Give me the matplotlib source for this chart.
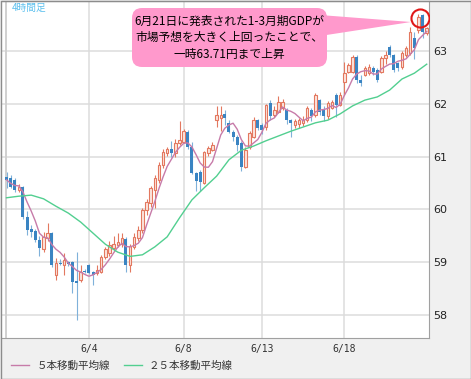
import matplotlib
matplotlib.use('Agg')
import matplotlib.pyplot as plt
from matplotlib.patches import FancyBboxPatch, Polygon
from matplotlib.transforms import IdentityTransform
import numpy as np
import pandas as pd

plt.rcParams['font.family'] = ['Noto Sans CJK JP', 'DejaVu Sans']

# 4時間足 (OHLC)
opens = [60.62, 60.59, 60.56, 60.37, 60.42, 59.86, 59.62, 59.60, 59.42, 59.25,
         59.46, 59.55, 58.75, 58.99, 58.95, 59.00, 59.01, 58.64, 58.66, 58.83,
         58.95, 58.82, 58.79, 58.82, 59.10, 59.17, 59.26, 59.33, 59.35, 59.44,
         58.95, 59.29, 59.46, 59.61, 59.98, 60.12, 60.37, 60.56, 60.84, 61.07,
         61.14, 61.07, 61.26, 61.28, 61.46, 61.18, 60.69, 60.70, 60.50, 61.07,
         61.13, 61.69, 61.73, 61.80, 61.64, 61.47, 61.38, 61.26, 60.81, 61.19,
         61.38, 61.69, 61.60, 61.56, 62.02, 61.79, 61.85, 61.92, 61.88, 61.69,
         61.60, 61.62, 61.64, 61.69, 61.88, 61.79, 62.07, 61.91, 61.76, 61.92,
         62.17, 61.98, 62.41, 62.61, 62.61, 62.89, 62.45, 62.55, 62.58, 62.68,
         62.64, 62.61, 62.87, 63.08, 62.92, 62.77, 62.70, 62.92, 62.96, 63.25,
         63.40, 63.68, 63.34]
highs = [60.71, 60.66, 60.60, 60.49, 60.45, 59.96, 59.70, 59.63, 59.50, 59.58,
         59.74, 59.58, 59.08, 59.06, 59.17, 59.02, 59.02, 59.20, 58.95, 58.88,
         58.96, 58.83, 58.95, 59.14, 59.28, 59.40, 59.50, 59.55, 59.55, 59.47,
         59.35, 59.55, 59.68, 60.03, 60.20, 60.45, 60.65, 60.90, 61.14, 61.18,
         61.30, 61.33, 61.68, 61.52, 61.50, 61.27, 60.71, 60.75, 61.10, 61.20,
         61.28, 61.95, 61.95, 61.88, 61.69, 61.50, 61.41, 61.30, 61.18, 61.48,
         61.75, 61.72, 61.64, 62.00, 62.07, 61.95, 62.15, 62.10, 61.92, 61.72,
         61.72, 61.73, 61.76, 61.95, 61.92, 62.20, 62.10, 61.95, 62.05, 62.08,
         62.20, 62.22, 62.79, 62.78, 62.92, 62.92, 62.55, 62.72, 62.75, 62.72,
         62.68, 62.90, 63.00, 63.12, 62.95, 62.80, 63.00, 63.10, 63.45, 63.36,
         63.71, 63.70, 63.46]
lows = [60.41, 60.40, 60.32, 60.33, 59.82, 59.52, 59.48, 59.38, 59.11, 59.20,
        59.40, 58.91, 58.66, 58.94, 58.76, 58.93, 58.42, 57.91, 58.63, 58.79,
        58.78, 58.57, 58.76, 58.79, 59.06, 59.12, 59.22, 59.28, 59.28, 58.82,
        58.82, 59.25, 59.40, 59.55, 59.90, 60.05, 60.03, 60.50, 60.78, 61.02,
        61.00, 61.00, 61.22, 61.25, 61.15, 60.67, 60.34, 60.34, 60.48, 61.02,
        61.10, 61.56, 61.48, 61.60, 61.45, 61.30, 61.10, 60.72, 60.78, 61.15,
        61.35, 61.50, 61.42, 61.50, 61.70, 61.75, 61.82, 61.88, 61.62, 61.37,
        61.55, 61.55, 61.58, 61.65, 61.68, 61.75, 61.78, 61.67, 61.72, 61.90,
        61.75, 61.95, 62.17, 62.58, 62.58, 62.40, 62.33, 62.52, 62.55, 62.55,
        62.42, 62.58, 62.75, 62.88, 62.60, 62.62, 62.66, 62.88, 62.92, 62.85,
        63.35, 63.25, 63.30]
closes = [60.56, 60.43, 60.37, 60.42, 59.86, 59.61, 59.58, 59.42, 59.27, 59.48,
          59.55, 58.95, 58.98, 58.97, 59.04, 58.97, 58.63, 58.61, 58.82, 58.81,
          58.80, 58.76, 58.85, 59.10, 59.25, 59.33, 59.35, 59.39, 59.46, 58.95,
          59.30, 59.48, 59.61, 59.99, 60.14, 60.41, 60.59, 60.84, 61.09, 61.14,
          61.07, 61.26, 61.31, 61.48, 61.18, 60.69, 60.53, 60.52, 61.09, 61.16,
          61.22, 61.79, 61.79, 61.73, 61.47, 61.38, 61.22, 60.81, 61.13, 61.45,
          61.69, 61.54, 61.50, 61.98, 61.76, 61.88, 62.04, 62.04, 61.69, 61.64,
          61.67, 61.69, 61.70, 61.92, 61.76, 62.17, 61.85, 61.76, 62.02, 62.04,
          61.98, 62.17, 62.58, 62.73, 62.89, 62.45, 62.39, 62.68, 62.70, 62.60,
          62.45, 62.87, 62.92, 62.92, 62.64, 62.68, 62.96, 63.06, 63.36, 63.06,
          63.64, 63.36, 63.43]

# 25本移動平均線, every 3 bars
ma25_vals = [60.22, 60.25, 60.27, 60.20, 60.06, 59.93, 59.76, 59.55, 59.34, 59.19,
             59.11, 59.14, 59.29, 59.48, 59.84, 60.18, 60.41, 60.63, 60.94, 61.12,
             61.20, 61.30, 61.39, 61.48, 61.56, 61.64, 61.69, 61.81, 61.96, 62.07,
             62.13, 62.26, 62.47, 62.58, 62.75]
ma25_step = 3

date_labels = ['6/4', '6/8', '6/13', '6/18']
date_bars = [20, 43, 62, 82]
price_ticks = [58, 59, 60, 61, 62, 63]

W, H = 471, 379
fig = plt.figure(figsize=(W / 100, H / 100), dpi=100)
fig.patch.set_facecolor('#f0f0f0')

ax = fig.add_axes([1 / W, (H - 338) / H, 428 / W, 337 / H])
ax.set_facecolor('white')

o = np.array(opens)
hi = np.array(highs)
lo = np.array(lows)
c = np.array(closes)
x = np.arange(len(o))
up = c >= o

up_col = '#e3785f'
dn_col = '#3a84c2'
dn_wick = '#7fb1da'

ax.vlines(x[up], lo[up], hi[up], color=up_col, lw=0.8, zorder=2)
ax.vlines(x[~up], lo[~up], hi[~up], color=dn_wick, lw=0.8, zorder=2)
ax.bar(x[up], (c - o)[up], bottom=o[up], width=0.6, facecolor='#fce6df',
       edgecolor=up_col, linewidth=0.8, zorder=3)
ax.bar(x[~up], (o - c)[~up], bottom=c[~up], width=0.72, color=dn_col, zorder=3)

ma5 = pd.Series(closes).rolling(5, min_periods=1).mean()
l5, = ax.plot(x, ma5, color='#c77ba9', lw=1.0, zorder=4, label='５本移動平均線')
l25, = ax.plot(np.arange(len(ma25_vals)) * ma25_step, ma25_vals, color='#52cf90',
               lw=1.0, zorder=4, label='２５本移動平均線')

ax.set_xlim(-1.335, 102.55)
ax.set_ylim(57.564, 63.947)

for p in price_ticks:
    ax.axhline(p, color='#dcdcdc', lw=1.1, zorder=1)
for b in date_bars:
    ax.axvline(b, color='#dcdcdc', lw=1.1, zorder=1)
ax.axvline(-0.1, color='#d0d0d0', lw=1.4, zorder=1)

ax.yaxis.tick_right()
ax.set_yticks(price_ticks)
ax.set_yticklabels([str(p) for p in price_ticks], fontfamily='DejaVu Sans')
ax.tick_params(axis='y', length=0, pad=3, labelsize=8, labelcolor='#222222')
ax.set_xticks(date_bars)
ax.set_xticklabels(date_labels, fontfamily='DejaVu Sans Mono')
ax.tick_params(axis='x', length=0, pad=4, labelsize=7, labelcolor='#333333')

for s in ['right', 'bottom']:
    ax.spines[s].set_color('#a0a0a0')
ax.spines['top'].set_color('#8c8c8c')
ax.spines['left'].set_visible(False)

# 高値の丸印
imax = int(np.argmax(hi))
ax.plot(imax + 0.4, hi[imax] - 0.09, 'o', ms=13, mfc='none', mec='#e01818', mew=1.5, zorder=6)

# 吹き出し (figure pixels, y measured from the bottom)
pink = '#ff99cc'
px = IdentityTransform()
fig.patches.append(FancyBboxPatch((132, H - 67), 195, 59, boxstyle='round,pad=0,rounding_size=10',
                                  fc=pink, ec='none', transform=px, figure=fig, zorder=5))
fig.patches.append(Polygon([(320, H - 15), (320, H - 36), (411, H - 22)], closed=True,
                           fc=pink, ec='none', transform=px, figure=fig, zorder=5))
fig.text(229.5, H - 37.5, '6月21日に発表された1-3月期GDPが\n市場予想を大きく上回ったことで、\n一時63.71円まで上昇',
         transform=px, ha='center', va='center', fontsize=8.5, linespacing=1.35,
         color='black', zorder=6)

fig.text(12 / W, 1 - 8 / H, '4時間足', color='#5cc0ee', fontsize=7, va='center', ha='left')

fig.legend(handles=[l5, l25], loc='center left', bbox_to_anchor=(11 / W, 13 / H),
           ncol=2, frameon=False, fontsize=7.6, handlelength=1.7, handletextpad=0.7,
           columnspacing=1.3, borderpad=0, borderaxespad=0, labelcolor='#333333')

fig.add_artist(plt.Rectangle((0.5 / W, 0.5 / H), 1 - 1 / W, 1 - 1 / H, transform=fig.transFigure,
                             fill=False, ec='#8c8c8c', lw=1))

fig.savefig('out.png', dpi=100)
